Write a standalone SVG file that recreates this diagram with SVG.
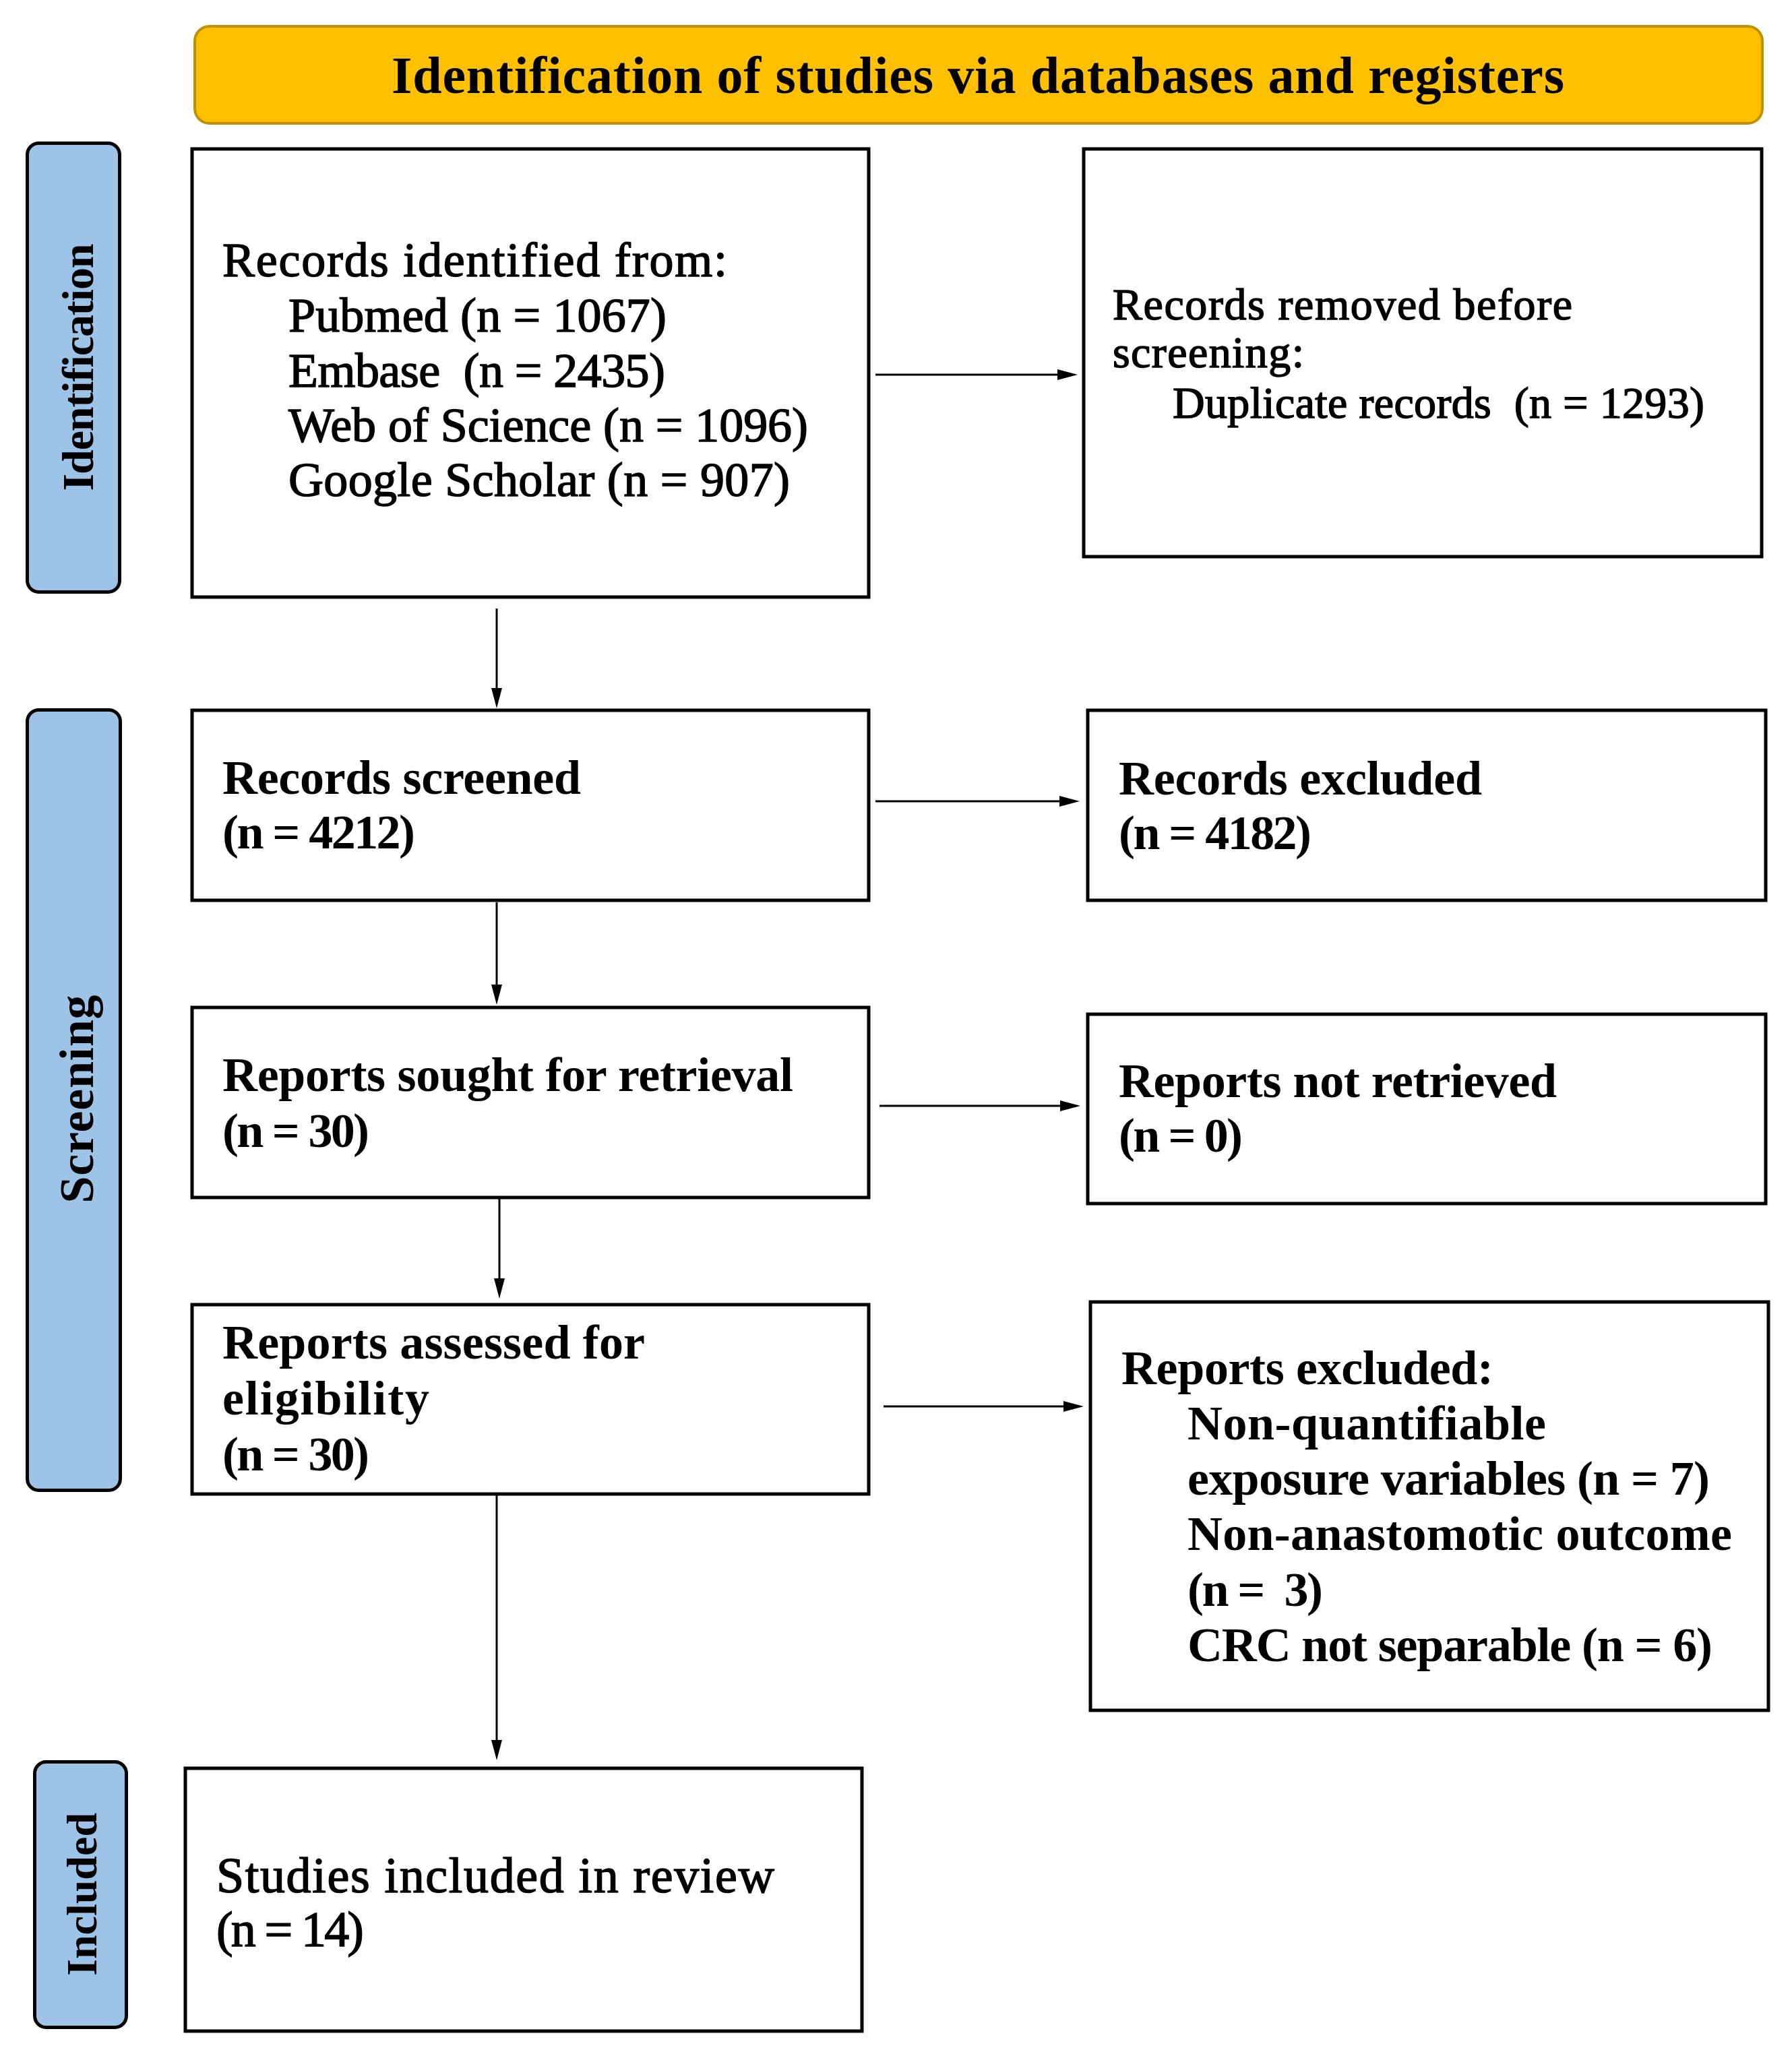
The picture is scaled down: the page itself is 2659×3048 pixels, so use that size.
<svg xmlns="http://www.w3.org/2000/svg" width="2659" height="3048" viewBox="0 0 2659 3048">
<style>
  .box { fill: #ffffff; stroke: #000000; stroke-width: 5; }
  .band { fill: #9DC3E6; stroke: #000000; stroke-width: 5; }
  .hdr { fill: #FFC000; stroke: #BF9000; stroke-width: 4; }
  .t { font-family: "Liberation Serif", "Times New Roman", serif; fill: #000000; }
  .r { font-weight: normal; stroke: #000000; stroke-width: 1.5; }
  .b { font-weight: bold; font-size: 72px; }
  .side { font-family: "Liberation Serif", "Times New Roman", serif; font-weight: bold; fill: #000000; text-anchor: middle; }
  .conn { stroke: #000000; stroke-width: 3; fill: none; marker-end: url(#ah); }
</style>
<defs>
  <marker id="ah" viewBox="0 0 30 16" refX="10" refY="8" markerWidth="30" markerHeight="16" markerUnits="userSpaceOnUse" orient="auto">
    <path d="M0,0 L30,8 L0,16 Z" fill="#000000"/>
  </marker>
</defs>
<rect width="2659" height="3048" fill="#ffffff"/>

<g id="header">
  <rect class="hdr" x="289" y="39" width="2326" height="144" rx="22" ry="22"/>
  <text class="t b" x="1451" y="138" font-size="78" style="font-size:78px" text-anchor="middle" textLength="1740" lengthAdjust="spacing">Identification of studies via databases and registers</text>
</g>

<g id="band-identification">
  <rect class="band" x="40.5" y="212.5" width="137" height="666" rx="17" ry="17"/>
  <text class="side" transform="translate(138,545) rotate(-90)" x="0" y="0" font-size="66" textLength="367" lengthAdjust="spacing">Identification</text>
</g>
<g id="band-screening">
  <rect class="band" x="40.5" y="1053.5" width="138" height="1158" rx="17" ry="17"/>
  <text class="side" transform="translate(138,1631) rotate(-90)" x="0" y="0" font-size="72" textLength="309" lengthAdjust="spacing">Screening</text>
</g>
<g id="band-included">
  <rect class="band" x="51.5" y="2614.5" width="136" height="394" rx="17" ry="17"/>
  <text class="side" transform="translate(143,2811) rotate(-90)" x="0" y="0" font-size="64" textLength="242" lengthAdjust="spacing">Included</text>
</g>

<g id="records-identified">
  <rect class="box" x="285" y="221" width="1004" height="665"/>
  <g class="t r" font-size="72">
    <text x="330" y="410" textLength="749" lengthAdjust="spacing">Records identified from:</text>
    <text x="428" y="492" textLength="561" lengthAdjust="spacing">Pubmed (n = 1067)</text>
    <text x="428" y="574" textLength="559" lengthAdjust="spacing" xml:space="preserve">Embase  (n = 2435)</text>
    <text x="428" y="655" textLength="771" lengthAdjust="spacing">Web of Science (n = 1096)</text>
    <text x="428" y="736" textLength="744" lengthAdjust="spacing">Google Scholar (n = 907)</text>
  </g>
</g>

<g id="records-removed">
  <rect class="box" x="1608" y="221" width="1006" height="605"/>
  <g class="t r" font-size="66">
    <text x="1651" y="474" textLength="682" lengthAdjust="spacing">Records removed before</text>
    <text x="1651" y="545" textLength="284" lengthAdjust="spacing">screening:</text>
    <text x="1740" y="620" textLength="789" lengthAdjust="spacing" xml:space="preserve">Duplicate records  (n = 1293)</text>
  </g>
</g>

<g id="records-screened">
  <rect class="box" x="285" y="1054" width="1004" height="282"/>
  <text class="t b" x="330" y="1178" textLength="532" lengthAdjust="spacing">Records screened</text>
  <text class="t b" x="330" y="1259" textLength="286" lengthAdjust="spacing">(n = 4212)</text>
</g>

<g id="records-excluded">
  <rect class="box" x="1614" y="1054" width="1006" height="282"/>
  <text class="t b" x="1660" y="1179" textLength="539" lengthAdjust="spacing">Records excluded</text>
  <text class="t b" x="1660" y="1260" textLength="286" lengthAdjust="spacing">(n = 4182)</text>
</g>

<g id="reports-sought">
  <rect class="box" x="285" y="1495" width="1004" height="282"/>
  <text class="t b" x="330" y="1619" textLength="847" lengthAdjust="spacing">Reports sought for retrieval</text>
  <text class="t b" x="330" y="1702" textLength="218" lengthAdjust="spacing">(n = 30)</text>
</g>

<g id="reports-not-retrieved">
  <rect class="box" x="1614" y="1505" width="1006" height="281"/>
  <text class="t b" x="1660" y="1628" textLength="650" lengthAdjust="spacing">Reports not retrieved</text>
  <text class="t b" x="1660" y="1709" textLength="184" lengthAdjust="spacing">(n = 0)</text>
</g>

<g id="reports-assessed">
  <rect class="box" x="285" y="1936" width="1004" height="281"/>
  <text class="t b" x="330" y="2016" textLength="627" lengthAdjust="spacing">Reports assessed for</text>
  <text class="t b" x="330" y="2099" textLength="307" lengthAdjust="spacing">eligibility</text>
  <text class="t b" x="330" y="2182" textLength="218" lengthAdjust="spacing">(n = 30)</text>
</g>

<g id="reports-excluded">
  <rect class="box" x="1618" y="1932" width="1006" height="606"/>
  <text class="t b" x="1664" y="2054" textLength="552" lengthAdjust="spacing">Reports excluded:</text>
  <text class="t b" x="1762" y="2136" textLength="532" lengthAdjust="spacing">Non-quantifiable</text>
  <text class="t b" x="1762" y="2218" textLength="775" lengthAdjust="spacing">exposure variables (n = 7)</text>
  <text class="t b" x="1762" y="2300" textLength="808" lengthAdjust="spacing">Non-anastomotic outcome</text>
  <text class="t b" x="1762" y="2383" textLength="201" lengthAdjust="spacing" xml:space="preserve">(n =  3)</text>
  <text class="t b" x="1762" y="2465" textLength="779" lengthAdjust="spacing">CRC not separable (n = 6)</text>
</g>

<g id="studies-included">
  <rect class="box" x="275" y="2624" width="1004" height="390"/>
  <g class="t r" font-size="74">
    <text x="321" y="2808" textLength="828" lengthAdjust="spacing">Studies included in review</text>
    <text x="321" y="2888" textLength="219" lengthAdjust="spacing">(n = 14)</text>
  </g>
</g>

<g id="connectors">
  <line class="conn" x1="1299" y1="556" x2="1579" y2="556"/>
  <line class="conn" x1="737" y1="903" x2="737" y2="1031"/>
  <line class="conn" x1="1299" y1="1189" x2="1582" y2="1189"/>
  <line class="conn" x1="737" y1="1339" x2="737" y2="1471"/>
  <line class="conn" x1="1305" y1="1641" x2="1583" y2="1641"/>
  <line class="conn" x1="741" y1="1779" x2="741" y2="1907"/>
  <line class="conn" x1="1311" y1="2087" x2="1588" y2="2087"/>
  <line class="conn" x1="737" y1="2219" x2="737" y2="2592"/>
</g>
</svg>
